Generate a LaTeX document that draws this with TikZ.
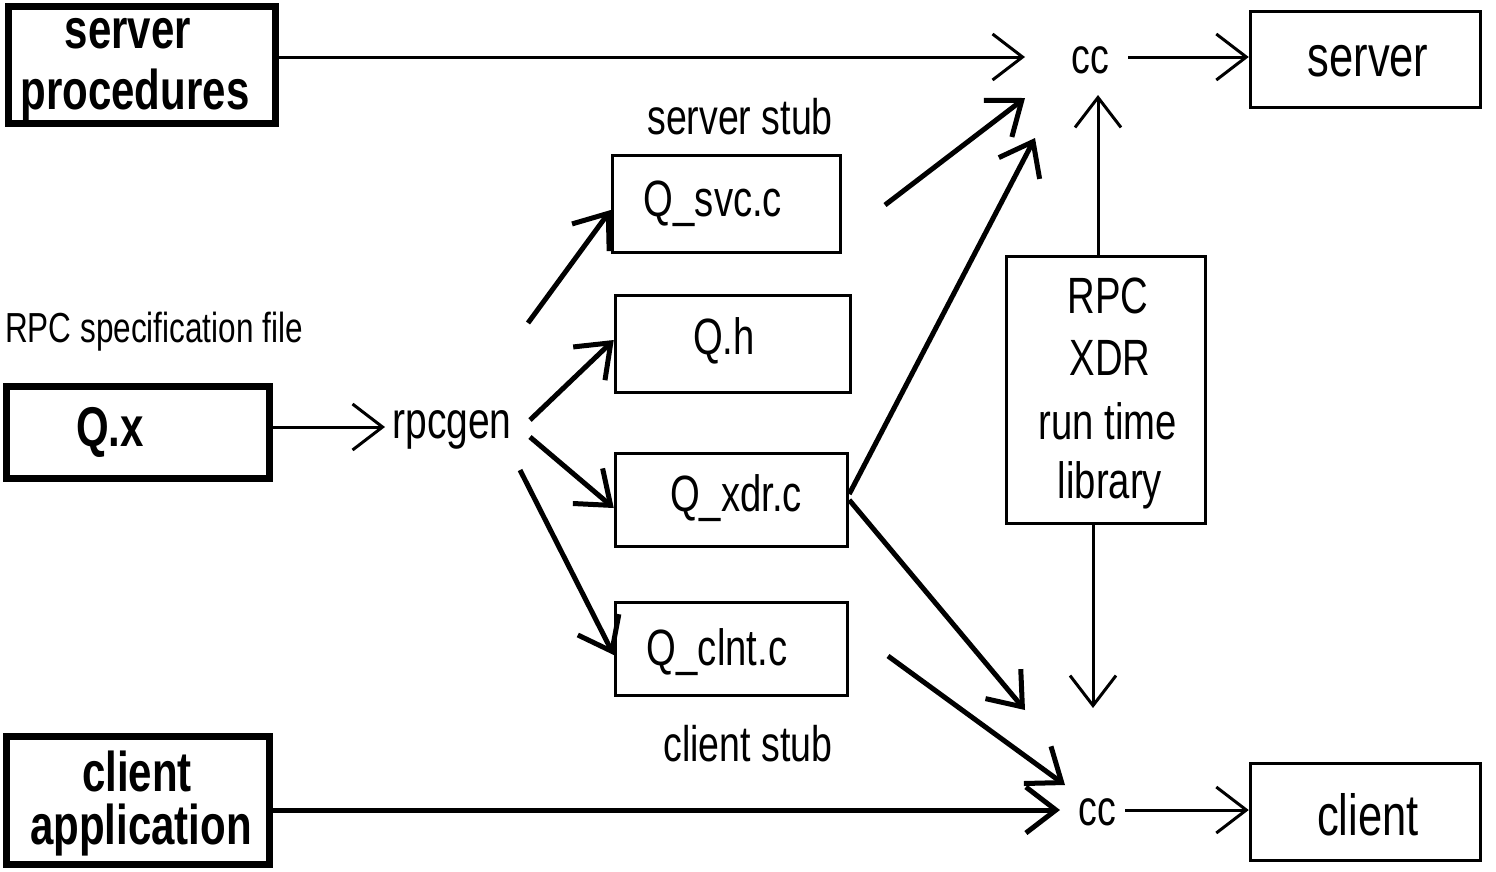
\documentclass[tikz,border=0pt]{standalone}
\usepackage{fontspec}
\setmainfont{Liberation Sans}[FakeStretch=0.75]
\usetikzlibrary{arrows.meta}
\newcommand\fsz[1]{\fontsize{#1pt}{#1pt}\selectfont}
\begin{document}
\begin{tikzpicture}[x=1pt,y=-1pt,
  fatbox/.style={draw, line width=7pt, inner sep=0pt},
  thinbox/.style={draw, line width=3.5pt, inner sep=0pt},
  lbl/.style={inner sep=0pt},
  arr/.style={line width=3pt, -{Straight Barb[length=30pt,width=46pt]}},
  warr/.style={arr, line width=5pt}]
\useasboundingbox (0,0) rectangle (1496,871);

% source files on the left
\node[fatbox, minimum width=267pt, minimum height=117pt] (sp) at (142,65) {};
\node[fatbox, minimum width=263pt, minimum height=92pt] (qx) at (138,432.5) {};
\node[fatbox, minimum width=263pt, minimum height=128pt] (ca) at (138,800.5) {};

% generated files
\node[thinbox, minimum width=228pt, minimum height=97pt] (svc) at (726.5,204) {};
\node[thinbox, minimum width=235pt, minimum height=97pt] (qh) at (733,344) {};
\node[thinbox, minimum width=232pt, minimum height=93pt] (xdr) at (731.5,500) {};
\node[thinbox, minimum width=232pt, minimum height=93pt] (clnt) at (731.5,649) {};

% executables and run time library
\node[thinbox, minimum width=230pt, minimum height=96pt] (srv) at (1365.5,59.5) {};
\node[thinbox, minimum width=230pt, minimum height=97pt] (cli) at (1365.5,812) {};
\node[thinbox, minimum width=199pt, minimum height=267pt] (rpc) at (1106,390) {};

% texts
\node[lbl, font={\fsz{56}\bfseries}] (spA) at (128,34) {server};
\node[lbl, font={\fsz{56}\bfseries}] (spB) at (135,95) {procedures};
\node[lbl, font={\fsz{56}\bfseries}] (qxT) at (110,432) {Q.x};
\node[lbl, font={\fsz{56}\bfseries}] (caA) at (137,771) {client};
\node[lbl, font={\fsz{56}\bfseries}] (caB) at (141,830) {application};
\node[lbl, font={\fsz{42}}, anchor=west] (spec) at (5,332) {RPC specification file};
\node[lbl, font={\fsz{52}}] (gen) at (452,430) {rpcgen};
\node[lbl, font={\fsz{50}}] (sstub) at (740,117) {server stub};
\node[lbl, font={\fsz{50}}] (cstub) at (748,744) {client stub};
\node[lbl, font={\fsz{51}}] (svcT) at (713,204) {Q\_svc.c};
\node[lbl, font={\fsz{51}}] (qhT) at (724,341) {Q.h};
\node[lbl, font={\fsz{51}}] (xdrT) at (736,498) {Q\_xdr.c};
\node[lbl, font={\fsz{51}}] (clntT) at (717,652) {Q\_clnt.c};
\node[lbl, font={\fsz{51}}] (rpcA) at (1108,296) {RPC};
\node[lbl, font={\fsz{51}}] (rpcB) at (1110,358) {XDR};
\node[lbl, font={\fsz{51}}] (rpcC) at (1108,421) {run time};
\node[lbl, font={\fsz{51}}] (rpcD) at (1110,485) {library};
\node[lbl, font={\fsz{50}}] (cctop) at (1090,60) {cc};
\node[lbl, font={\fsz{50}}] (ccbot) at (1097,812) {cc};
\node[lbl, font={\fsz{58}}] (srvT) at (1368,61) {server};
\node[lbl, font={\fsz{58}}] (cliT) at (1368,815) {client};

% connector ends
\coordinate (inA) at (1025,57);
\coordinate (outA) at (1128,57);
\coordinate (inB) at (385,427);
\coordinate (g1) at (528,323);
\coordinate (g2) at (530,420);
\coordinate (g3) at (530,437);
\coordinate (g4) at (520,470);
\coordinate (g5) at (885,205);
\coordinate (g6) at (888,656);
\coordinate (t1) at (1025,98);
\coordinate (t2) at (1035,138);
\coordinate (t3) at (1025,710);
\coordinate (t4) at (1065,785);
\coordinate (inC) at (1060,810);
\coordinate (outC) at (1125,810);
\coordinate (t6) at (1098,95);
\coordinate (t7) at (1093,708);

% connectors
\draw[arr] (sp.east |- inA) -- (inA);
\draw[arr] (outA) -- (outA -| srv.west);
\draw[arr] (qx.east |- inB) -- (inB);
\draw[warr] (g1) -- ([yshift=-6pt]svc.west);
\draw[warr] (g2) -- ([yshift=4pt]qh.west);
\draw[warr] (g3) -- ([yshift=-8pt]xdr.west);
\draw[warr] (g4) -- ([yshift=-6pt]clnt.west);
\draw[warr] (g5) -- (t1);
\draw[warr] ([yshift=6pt]xdr.east) -- (t2);
\draw[warr] (xdr.east) -- (t3);
\draw[warr] (g6) -- (t4);
\draw[warr] (ca.east |- inC) -- (inC);
\draw[arr] (outC) -- (outC -| cli.west);
\draw[arr] (rpc.north -| t6) -- (t6);
\draw[arr] (rpc.south -| t7) -- (t7);
\end{tikzpicture}
\end{document}
